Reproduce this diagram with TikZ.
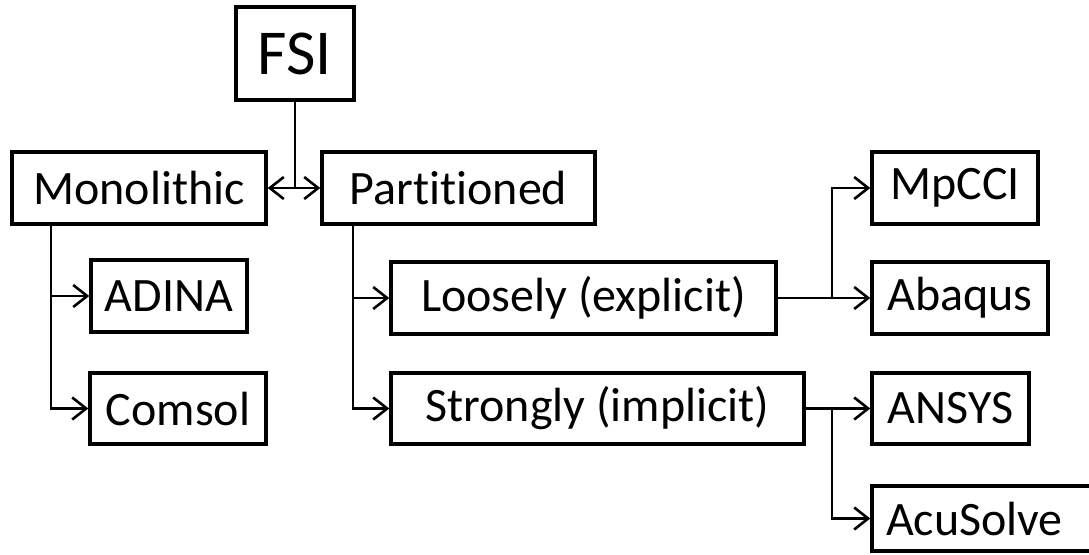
\documentclass[tikz,border=0pt]{standalone}
\usepackage{fontspec}
\setmainfont[RawFeature={-liga,-dlig,-calt}]{Carlito}
\usetikzlibrary{arrows.meta}

\begin{document}
\begin{tikzpicture}[x=0.5pt, y=-0.5pt, >={Straight Barb[length=7pt, width=11pt, line width=1.3pt]},
  box/.style={draw, line width=1.7pt, inner sep=0pt, font=\fontsize{24}{28}\selectfont},
  link/.style={line width=1.4pt}]
\clip (0,0) rectangle (1089,554);

\node[box, minimum width=59pt, minimum height=46.5pt, font=\fontsize{32}{36}\selectfont] (fsi) at (295,53.5) {FSI};
\node[box, minimum width=127pt, minimum height=36pt] (mono) at (139,188) {Monolithic};
\node[box, minimum width=136.5pt, minimum height=36pt] (part) at (458.5,188) {Part\kern0pt it\kern0pt ioned};

\node[box, minimum width=78pt, minimum height=36pt] (adina) at (169,296) {ADINA};
\node[box, minimum width=88pt, minimum height=35.5pt] (comsol) at (178,408.5) {Comsol};
\node[box, minimum width=192.5pt, minimum height=36pt] (loose) at (583.5,298) {Loosely (explicit)};
\node[box, minimum width=206.5pt, minimum height=35.5pt] (strong) at (597.5,408.5) {Strongly (implicit)};

\node[box, minimum width=83pt, minimum height=36pt] (mpcci) at (955,188) {MpCCI};
\node[box, minimum width=88pt, minimum height=36pt] (abaqus) at (960,298) {Abaqus};
\node[box, minimum width=78.5pt, minimum height=35.5pt] (ansys) at (950.5,408.5) {ANSYS};
\node[box, minimum width=130pt, minimum height=32.5pt, text width=130pt, align=left] (acusolve) at (1002,518.5) {\hspace*{7pt}AcuSolve};

\coordinate (mtrunk) at (51,224);
\coordinate (ptrunk) at (353,224);
\coordinate (lsplit) at (832,298);
\coordinate (ssplit) at (832,408.5);

\draw[link] (fsi.south) -- (fsi.south |- mono.east);
\draw[link, <->] (mono.east) -- (part.west);

\draw[link, ->] (mtrunk) |- (adina.west);
\draw[link, ->] (mtrunk) |- (comsol.west);
\draw[link, ->] (ptrunk) |- (loose.west);
\draw[link, ->] (ptrunk) |- (strong.west);

\draw[link] (loose.east) -- (lsplit);
\draw[link, ->] (lsplit) |- (mpcci.west);
\draw[link, ->] (lsplit) -- (abaqus.west);
\draw[link, ->] (strong.east) -- (ansys.west);
\draw[link, ->] (ssplit) |- (acusolve.west);
\end{tikzpicture}
\end{document}
